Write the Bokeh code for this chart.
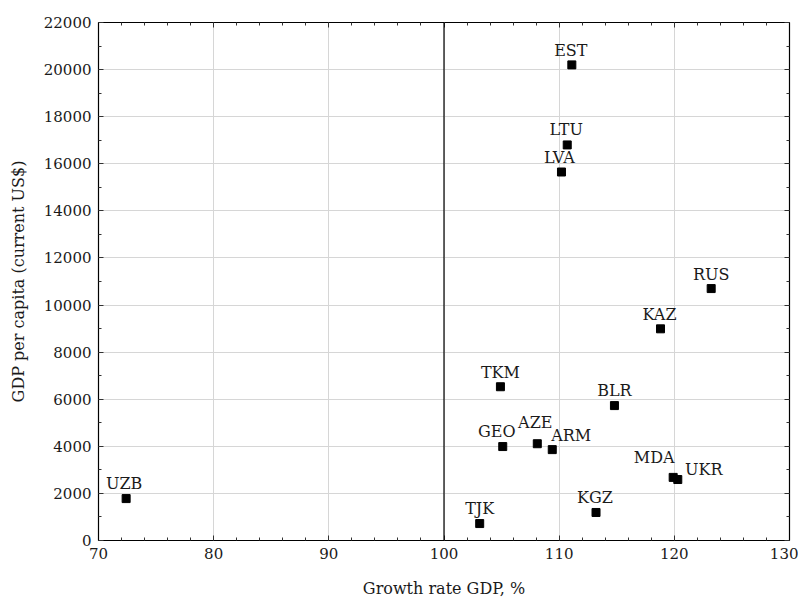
from bokeh.plotting import figure
from bokeh.models import ColumnDataSource, FixedTicker, LinearAxis, Span, Range1d, CustomJSTickFormatter
from bokeh.core.properties import value
from bokeh.embed import file_html
from bokeh.resources import INLINE

countries = ["EST", "LTU", "LVA", "RUS", "KAZ", "TKM", "BLR", "GEO", "AZE", "ARM",
             "MDA", "UKR", "KGZ", "TJK", "UZB"]
growth_rate = [111.1, 110.7, 110.2, 123.2, 118.8, 104.9, 114.8, 105.1, 108.1, 109.4,
               119.9, 120.3, 113.2, 103.1, 72.4]
gdp_per_capita = [20200, 16800, 15650, 10700, 8990, 6530, 5730, 3990, 4110, 3860,
                  2680, 2590, 1190, 720, 1780]
x_ticks = [70, 80, 90, 100, 110, 120, 130]
y_ticks = list(range(0, 22001, 2000))
x_minor = list(range(70, 131, 2))
y_minor = list(range(0, 22001, 1000))

# label placement (pixels, style only)
label_dx = [-1, -1, -2, 0, -1, 0, 0, -6, -2, 19, -19, 26, -1, 0, -2]
label_dy = [-5, -6, -5, -5, -5, -5, -6, -6, -12, -5, -10, -1, -5, -6, -6]

FONT = "DejaVu Serif"
TXT = "#1a1a1a"

src = ColumnDataSource(dict(x=growth_rate, y=gdp_per_capita, name=countries,
                            dx=label_dx, dy=label_dy))

p = figure(width=798, height=600, output_backend="svg", toolbar_location=None,
           x_range=Range1d(70, 130), y_range=Range1d(0, 22000),
           min_border_left=98, min_border_right=9, min_border_top=22, min_border_bottom=59)
p.outline_line_color = "black"
p.outline_line_width = 1.2
p.background_fill_color = "white"

for ax, ticks, minor in ((p.xaxis[0], x_ticks, x_minor), (p.yaxis[0], y_ticks, y_minor)):
    ax.ticker = FixedTicker(ticks=ticks, minor_ticks=minor)
    ax.major_tick_in = 5
    ax.major_tick_out = 0
    ax.minor_tick_in = 3
    ax.minor_tick_out = 0
    ax.axis_line_color = "black"
    ax.major_tick_line_color = "#333333"
    ax.minor_tick_line_color = "#333333"
    ax.major_label_text_font = FONT
    ax.major_label_text_font_size = "15px"
    ax.major_label_text_color = TXT
    ax.axis_label_text_font = FONT
    ax.axis_label_text_font_size = "16px"
    ax.axis_label_text_font_style = "normal"
    ax.axis_label_text_color = TXT

p.xaxis.axis_label = "Growth rate GDP, %"
p.yaxis.axis_label = "GDP per capita (current US$)"
p.xaxis.major_label_standoff = 7
p.yaxis.major_label_standoff = 7
p.xaxis.axis_label_standoff = 17
p.yaxis.axis_label_standoff = 13

for loc, ticks, minor in (("above", x_ticks, x_minor), ("right", y_ticks, y_minor)):
    ax = LinearAxis(ticker=FixedTicker(ticks=ticks, minor_ticks=minor),
                    formatter=CustomJSTickFormatter(code="return ''"))
    ax.major_tick_in = 5
    ax.major_tick_out = 0
    ax.minor_tick_in = 3
    ax.minor_tick_out = 0
    ax.major_label_standoff = 0
    ax.axis_line_color = "black"
    ax.major_tick_line_color = "#333333"
    ax.minor_tick_line_color = "#333333"
    p.add_layout(ax, loc)

p.xgrid.ticker = FixedTicker(ticks=x_ticks)
p.ygrid.ticker = FixedTicker(ticks=y_ticks)
p.xgrid.grid_line_color = "#d6d6d6"
p.ygrid.grid_line_color = "#d6d6d6"

p.add_layout(Span(location=100, dimension="height", line_color="black", line_width=1.2))

p.scatter("x", "y", source=src, marker="square", size=8, color="black")
p.text("x", "y", text="name", source=src, x_offset="dx", y_offset="dy",
       text_align="center", text_baseline="bottom",
       text_font=value(FONT), text_font_size="16px", text_color=TXT)

open("out.html", "w").write(file_html(p, INLINE))
